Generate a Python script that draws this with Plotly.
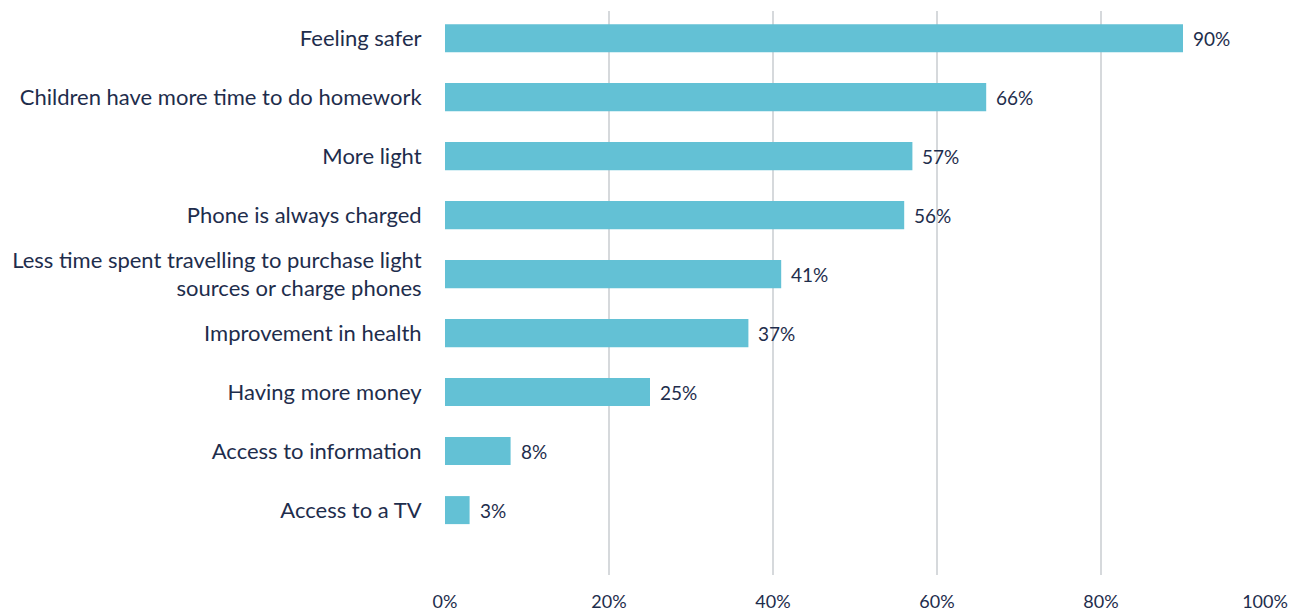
import plotly.graph_objects as go

# Survey responses: reported benefits of solar lighting (share of respondents, %)
categories = [
    "Feeling safer",
    "Children have more time to do homework",
    "More light",
    "Phone is always charged",
    "Less time spent travelling to purchase light<br>sources or charge phones",
    "Improvement in health",
    "Having more money",
    "Access to information",
    "Access to a TV",
]
values = [90, 66, 57, 56, 41, 37, 25, 8, 3]
x_ticks = [0, 20, 40, 60, 80, 100]
x_tick_labels = ["0%", "20%", "40%", "60%", "80%", "100%"]

navy = "#1E2D4C"
bar_color = "#63C1D5"
font_family = "Lato, 'Open Sans', sans-serif"

fig = go.Figure(
    go.Bar(
        x=values,
        y=categories,
        orientation="h",
        marker=dict(color=bar_color, line=dict(width=0)),
        width=0.475,
        hoverinfo="x+y",
    )
)

# Value labels just to the right of each bar end
for cat, v in zip(categories, values):
    fig.add_annotation(
        x=v,
        y=cat,
        text=f"{v}%",
        showarrow=False,
        xanchor="left",
        yanchor="middle",
        xshift=8,
        font=dict(size=19, color=navy, family=font_family),
    )

fig.update_layout(
    width=1304,
    height=612,
    margin=dict(l=445, r=39, t=11, b=37, autoexpand=False),
    plot_bgcolor="white",
    paper_bgcolor="white",
    showlegend=False,
    font=dict(family=font_family, color=navy),
)

fig.update_xaxes(
    range=[0, 100],
    tickvals=x_ticks,
    ticktext=x_tick_labels,
    showgrid=True,
    gridcolor="#D6D9DC",
    gridwidth=1.5,
    zeroline=False,
    showline=False,
    ticks="outside",
    ticklen=10,
    tickcolor="rgba(0,0,0,0)",
    tickfont=dict(size=18, color=navy),
    automargin=False,
    fixedrange=True,
)

fig.update_yaxes(
    categoryorder="array",
    categoryarray=categories,
    range=[len(categories) + 0.1, -0.46],
    showgrid=False,
    zeroline=False,
    showline=False,
    ticks="outside",
    ticklen=18,
    tickcolor="rgba(0,0,0,0)",
    tickfont=dict(size=22, color=navy),
    automargin=False,
    fixedrange=True,
)

fig.write_html("out.html")
